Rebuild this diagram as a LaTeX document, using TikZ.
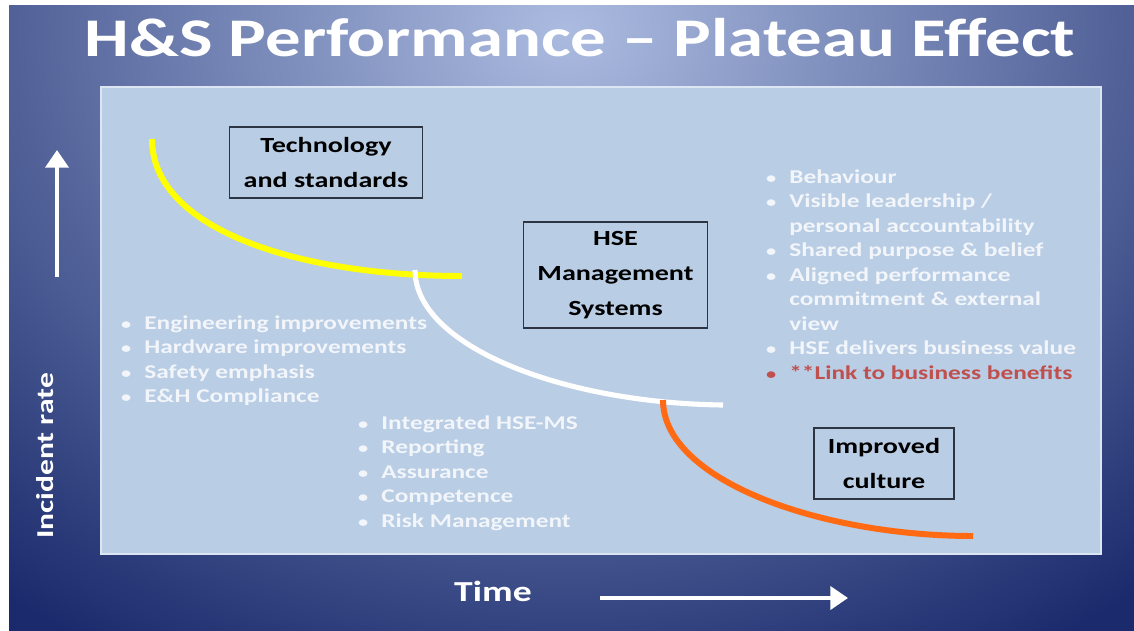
\documentclass[tikz,border=0pt]{standalone}
\usepackage{fontspec}
\setmainfont{Carlito}[FakeStretch=1.3]
\usetikzlibrary{arrows.meta}
\definecolor{bgin}{HTML}{ABBBE0}
\definecolor{bgout}{HTML}{1A2A6C}
\definecolor{panel}{HTML}{B9CDE5}
\definecolor{panelborder}{HTML}{DCE6F2}
\definecolor{boxline}{HTML}{2E3542}
\definecolor{itemtext}{HTML}{F2F5FA}
\definecolor{linkred}{HTML}{C0504D}
\definecolor{curveorange}{HTML}{FF6A13}
\definecolor{curveyellow}{HTML}{FFFF00}
\newcommand{\bul}{\llap{\scalebox{0.8}{\textbullet}\hspace{7.5pt}}}
\tikzset{
  labelbox/.style={draw=boxline, line width=0.9pt, inner sep=0pt, align=center,
    font=\bfseries\fontsize{12.3}{19.8}\selectfont, text=black},
  item/.style={anchor=base west, inner sep=0pt, text=itemtext,
    font=\bfseries\fontsize{11.1}{13.9}\selectfont},
  axisarrow/.style={draw=white, line width=2.3pt, -{Triangle[width=13pt,length=10pt]}},
  curve/.style={line width=3.4pt}
}
\begin{document}
\begin{tikzpicture}[x=0.02cm,y=-0.02cm]
\useasboundingbox (0,0) rectangle (1134,630);
\fill[white] (-10,-10) rectangle (9,640);
\fill[white] (-10,-10) rectangle (1144,5);
\begin{scope}
  \clip (9,5) rectangle (1144,640);
  \fill[bgout] (9,5) rectangle (1144,640);
  \shade[inner color=bgin, outer color=bgout] (567,30) ellipse (18cm and 14.5cm);
\end{scope}
% title
\node[anchor=base, inner sep=0pt, text=white, font=\bfseries\fontsize{31}{36}\selectfont] (title) at (580,56) {H\&S Performance – Plateau Effect};
% panel
\draw[fill=panel, draw=panelborder, line width=0.9pt] (101,87) rectangle (1101,554);
% curves
\coordinate (ys) at (152,139);
\coordinate (ye) at (462,276);
\coordinate (ws) at (415,270);
\coordinate (we) at (723,405);
\coordinate (os) at (663,400);
\coordinate (oe) at (973,536);
\draw[curve, curveyellow] (ys) .. controls (152,230) and (300,276) .. (ye);
\draw[curve, white, line width=2.9pt] (ws) .. controls (415,345) and (560,403) .. (we);
\draw[curve, curveorange] (os) .. controls (663,480) and (820,536) .. (oe);
% boxes
\node[labelbox, minimum width=110pt, minimum height=40.3pt] (tech) at (326,162.5) {Technology\\and standards};
\node[labelbox, minimum width=104.9pt, minimum height=60.1pt] (hse) at (615.5,275) {HSE\\Management\\Systems};
\node[labelbox, minimum width=79.4pt, minimum height=40.3pt] (culture) at (884,463.5) {Improved\\culture};
% list 1
\node[item] (a1) at (144,329) {\bul Engineering improvements};
\node[item] (a2) at (144,353.5) {\bul Hardware improvements};
\node[item] (a3) at (144,378) {\bul Safety emphasis};
\node[item] (a4) at (144,402.5) {\bul E\&H Compliance};
% list 2
\node[item] (b1) at (381,429) {\bul Integrated HSE-MS};
\node[item] (b2) at (381,453.5) {\bul Reporting};
\node[item] (b3) at (381,478) {\bul Assurance};
\node[item] (b4) at (381,502.5) {\bul Competence};
\node[item] (b5) at (381,527) {\bul Risk Management};
% list 3
\node[item] (c1) at (789,183) {\bul Behaviour};
\node[item] (c2) at (789,207.5) {\bul Visible leadership /};
\node[item] (c3) at (789,232) {personal accountability};
\node[item] (c4) at (789,256.5) {\bul Shared purpose \& belief};
\node[item] (c5) at (789,281) {\bul Aligned performance};
\node[item] (c6) at (789,305.5) {commitment \& external};
\node[item] (c7) at (789,330) {view};
\node[item] (c8) at (789,354.5) {\bul HSE delivers business value};
\node[item, text=linkred] (c9) at (789,379) {\bul **Link to business benefits};
% axes
\coordinate (ya0) at (57,277);
\coordinate (ya1) at (57,150);
\draw[axisarrow] (ya0) -- (ya1);
\coordinate (xa0) at (600,598);
\coordinate (xa1) at (848,598);
\draw[axisarrow] (xa0) -- (xa1);
\node[anchor=base, inner sep=0pt, rotate=90, text=white, font=\bfseries\fontsize{13.8}{16}\selectfont] (ylabel) at (53,456) {Incident rate};
\node[anchor=base, inner sep=0pt, text=white, font=\bfseries\fontsize{16.5}{20}\selectfont] (xlabel) at (493,601) {Time};
\end{tikzpicture}
\end{document}
